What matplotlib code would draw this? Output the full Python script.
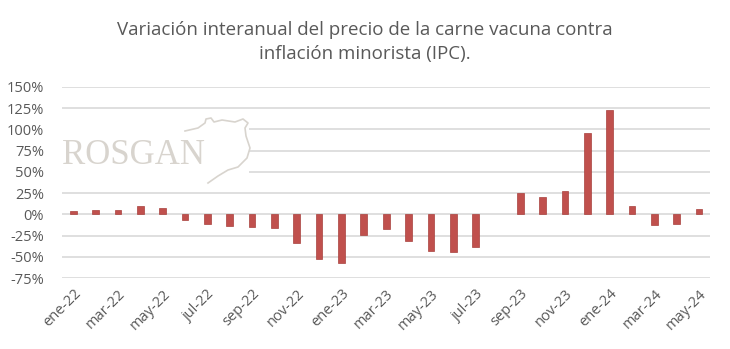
import numpy as np
import matplotlib.pyplot as plt
from matplotlib.patches import Rectangle

months = ["ene-22", "feb-22", "mar-22", "abr-22", "may-22", "jun-22", "jul-22", "ago-22",
          "sep-22", "oct-22", "nov-22", "dic-22", "ene-23", "feb-23", "mar-23", "abr-23",
          "may-23", "jun-23", "jul-23", "ago-23", "sep-23", "oct-23", "nov-23", "dic-23",
          "ene-24", "feb-24", "mar-24", "abr-24", "may-24"]
variacion = [4, 5, 5, 10, 7, -6, -11, -14, -15, -16, -34, -52, -57, -24, -17, -31,
             -43, -44, -38, np.nan, 25, 20, 28, 96, 123, 9.5, -13, -11, 6]
yticks = [-75, -50, -25, 0, 25, 50, 75, 100, 125, 150]

text_color = "#595959"
logo_color = "#d8d4ce"
plt.rcParams["font.family"] = ["Open Sans", "DejaVu Sans"]

W, H = 730, 349
fig = plt.figure(figsize=(W / 100, H / 100), dpi=100)
ax = fig.add_axes([0.085, 0.203, 0.888, 0.548])

x = np.arange(len(months))
ax.bar(x, variacion, width=0.3, color="#C0504D", edgecolor="#A8403D", linewidth=0.5, zorder=3)

ax.set_xlim(-0.5, len(months) - 0.5)
ax.set_ylim(-75, 150)
ax.set_yticks(yticks)
ax.set_yticklabels([f"{v}%" for v in yticks])
ax.yaxis.grid(True, color="#d9d9d9", linewidth=1.2)
ax.tick_params(axis="both", length=0, colors=text_color, labelsize=10.5)
ax.tick_params(axis="y", pad=13)
ax.tick_params(axis="x", pad=6)
ax.set_xticks(x[::2])
ax.set_xticklabels(months[::2], rotation=45, ha="right", va="top", rotation_mode="anchor")
for s in ax.spines.values():
    s.set_visible(False)

# logo block (white backing hides the gridlines): wordmark plus a rough cow-head outline
ax.add_patch(Rectangle((62 / W, 1 - 186 / H), 187 / W, 72 / H, transform=fig.transFigure,
                       facecolor="white", edgecolor="none", zorder=1.8))
ax.text(62 / W, 1 - 155 / H, "ROSGAN", family="Liberation Serif", fontsize=25, color=logo_color,
        va="center", ha="left", transform=fig.transFigure, zorder=2)
head = [(185, 131), (198, 128), (205, 123), (206, 119), (211, 118), (214, 122), (222, 120),
        (235, 122), (243, 119), (248, 123), (245, 128), (246, 136), (250, 148), (247, 158),
        (238, 167), (228, 170), (218, 176), (208, 183)]
hx = [p[0] / W for p in head]
hy = [1 - p[1] / H for p in head]
ax.plot(hx, hy, color=logo_color, linewidth=1.2, transform=fig.transFigure, zorder=2)

fig.text(0.5, 0.88, "Variación interanual del precio de la carne vacuna contra\ninflación minorista (IPC).",
         ha="center", va="center", fontsize=13.5, color=text_color, linespacing=1.45)

fig.savefig("out.png", dpi=100, facecolor="white")
